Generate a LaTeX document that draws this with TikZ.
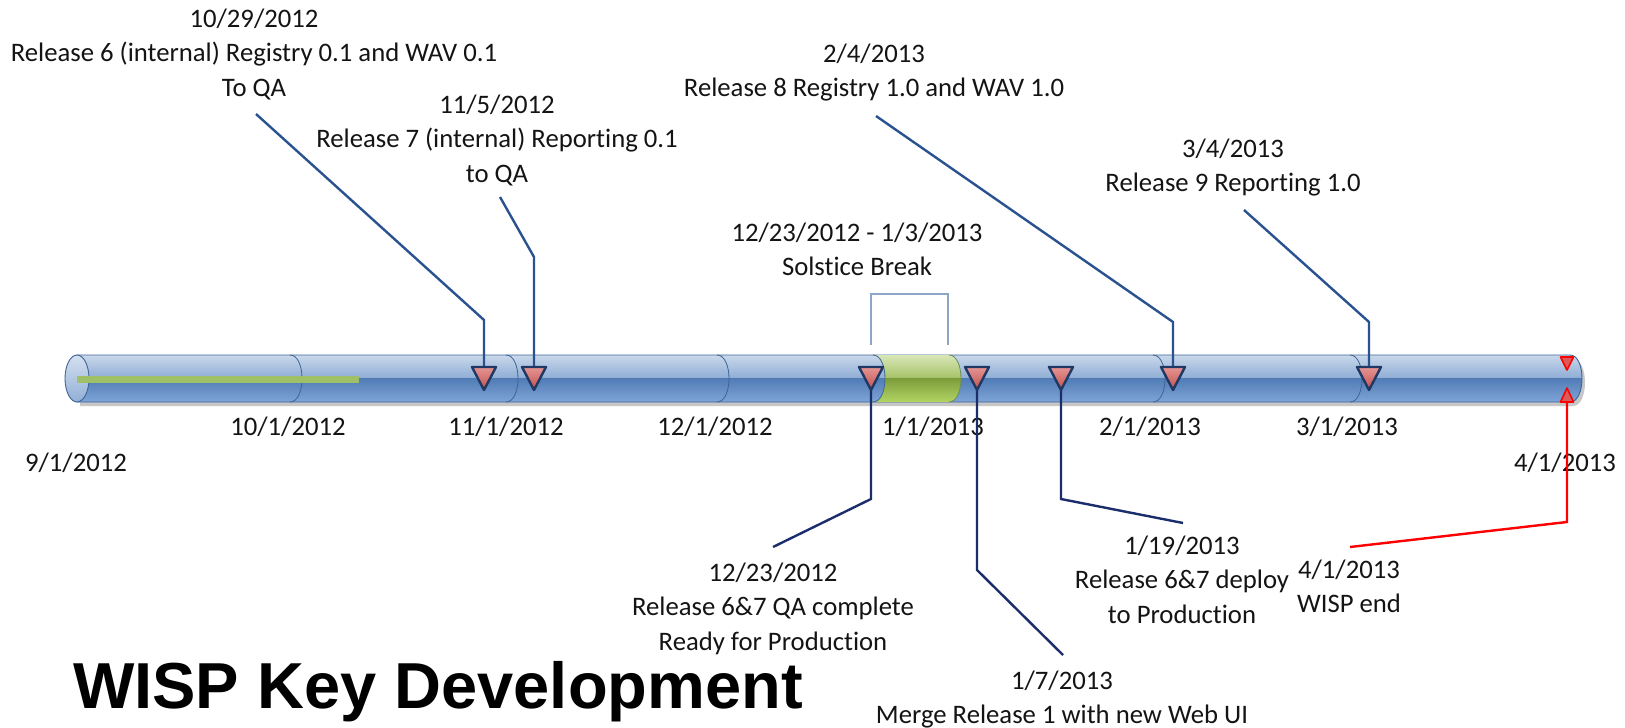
\documentclass[tikz,border=0pt]{standalone}
\usepackage{fontspec}
\setmainfont{Carlito}[Ligatures={NoCommon}]
\newfontfamily\titlefont{Liberation Sans}
\definecolor{tt}{HTML}{C9D8EB}
\definecolor{tum}{HTML}{92AFD6}
\definecolor{tlm}{HTML}{4F7AB4}
\definecolor{tb}{HTML}{7FA5D8}
\definecolor{gt}{HTML}{D8E7B8}
\definecolor{gum}{HTML}{A8C46A}
\definecolor{glm}{HTML}{7A9A3A}
\definecolor{gb}{HTML}{B2D462}
\definecolor{outl}{HTML}{3F6496}
\definecolor{topc}{HTML}{2A5290}
\definecolor{botc}{HTML}{1B2D6B}
\definecolor{triout}{HTML}{1F3864}
\definecolor{txt}{HTML}{141414}
\definecolor{tritop}{HTML}{E59593}
\definecolor{tribot}{HTML}{C0504D}
\definecolor{redfill}{HTML}{DC5A5A}
\definecolor{brk}{HTML}{8EA6C6}
\definecolor{gbar}{HTML}{A0C068}
\definecolor{gedge}{HTML}{6E8C5A}
\pgfdeclareverticalshading{tubeshade}{100bp}{color(0bp)=(tb); color(25bp)=(tb); color(51.2bp)=(tlm); color(51.6bp)=(tum); color(75bp)=(tt); color(100bp)=(tt)}
\pgfdeclareverticalshading{greenshade}{100bp}{color(0bp)=(gb); color(25bp)=(gb); color(51.2bp)=(glm); color(51.6bp)=(gum); color(75bp)=(gt); color(100bp)=(gt)}
\tikzset{
  lbl/.style={font=\fontsize{26.7}{34.5}\selectfont, align=center, anchor=base, inner sep=0pt, text=txt},
  ttl/.style={font=\titlefont\bfseries\fontsize{65}{70}\selectfont, anchor=base west, inner sep=0pt, text=black},
  tubebody/.style={shading=tubeshade, draw=outl, line width=0.9pt},
  greenseg/.style={shading=greenshade},
  divider/.style={draw=outl, line width=0.8pt},
  topconn/.style={draw=topc, line width=2.4pt},
  botconn/.style={draw=botc, line width=2.4pt},
  redconn/.style={draw=red, line width=2.4pt},
  milestone/.style={draw=triout, line width=2.4pt, line join=round, top color=tritop, bottom color=tribot},
  redmark/.style={draw=red, line width=1.6pt, line join=round, fill=redfill},
  bracket/.style={draw=brk, line width=1.2pt},
}
\newcommand{\mtri}[2]{\path[milestone] (#1-12,367) -- (#1+12,367) -- (#1,390) -- cycle; \coordinate (#2) at (#1,367);}
\newcommand{\divarc}[1]{\draw[divider] (#1,355) .. controls (#1+16,355) and (#1+16,402) .. (#1,402);}
\begin{document}
\begin{tikzpicture}[x=1pt,y=-1pt]
\useasboundingbox (0,0) rectangle (1625,728);
\fill[white] (0,0) rectangle (1625,728);
% labels (anchor base = baseline of last line)
\node[lbl] (l1029) at (254,96) {10/29/2012\\Release 6 (internal) Registry 0.1 and WAV 0.1\\To QA};
\node[lbl] (l115) at (497,182) {11/5/2012\\Release 7 (internal) Reporting 0.1\\to QA};
\node[lbl] (l204) at (874,96.5) {2/4/2013\\Release 8 Registry 1.0 and WAV 1.0};
\node[lbl] (l304) at (1233,191.5) {3/4/2013\\Release 9 Reporting 1.0};
\node[lbl] (lsol) at (857,275.5) {12/23/2012 - 1/3/2013\\Solstice Break};
\node[lbl] (l1223) at (773,650) {12/23/2012\\Release 6\&7 QA complete\\Ready for Production};
\node[lbl] (l107) at (1062,723.5) {1/7/2013\\Merge Release 1 with new Web UI};
\node[lbl] (l119) at (1182,623) {1/19/2013\\Release 6\&7 deploy\\to Production};
\node[lbl] (l401) at (1349,612.5) {4/1/2013\\WISP end};
\node[lbl] (d0) at (76,471) {9/1/2012};
\node[lbl] (d1) at (288,435) {10/1/2012};
\node[lbl] (d2) at (506,435) {11/1/2012};
\node[lbl] (d3) at (715,435) {12/1/2012};
\node[lbl] (d4) at (933,435) {1/1/2013};
\node[lbl] (d5) at (1150,435) {2/1/2013};
\node[lbl] (d6) at (1347,435) {3/1/2013};
\node[lbl] (d7) at (1565,471) {4/1/2013};
\node[ttl] (title) at (73,708) {WISP Key Development};
% tube shadow and body
\fill[black!40, opacity=0.55] (80,359) -- (1573,359) .. controls (1589,359) and (1589,406) .. (1573,406) -- (80,406) -- cycle;
\path[tubebody] (77,355) -- (1570,355) .. controls (1586,355) and (1586,402) .. (1570,402) -- (77,402) -- cycle;
\path[greenseg] (873,355) -- (949,355) .. controls (965,355) and (965,402) .. (949,402) -- (873,402) .. controls (889,402) and (889,355) .. (873,355) -- cycle;
\draw[draw=gedge, line width=0.8pt] (949,355) .. controls (965,355) and (965,402) .. (949,402);
\foreach \t in {290,506,717,873,1153,1350} {\divarc{\t}}
\draw[draw=outl, line width=0.9pt, top color=tt!80!white, bottom color=tum] (77,378.5) ellipse [x radius=12, y radius=23.5];
\fill[gbar] (77,376) rectangle (359,383);
% solstice bracket
\draw[bracket] (871,345) -- (871,294) -- (948,294) -- (948,345);
% connector free ends and corners
\coordinate (s1029) at (256,114); \coordinate (k1029) at (484,320);
\coordinate (s115) at (500,197); \coordinate (k115) at (534,257);
\coordinate (s204) at (876,116); \coordinate (k204) at (1173,322);
\coordinate (s304) at (1244,210); \coordinate (k304) at (1369,322);
\coordinate (e1223) at (773,547); \coordinate (k1223) at (871,499);
\coordinate (e107) at (1063,655); \coordinate (k107) at (977,570);
\coordinate (e119) at (1183,523); \coordinate (k119) at (1061,499);
\coordinate (e401) at (1350,547); \coordinate (k401) at (1567,522);
\coordinate (a1223) at (871,390); \coordinate (a107) at (977,390); \coordinate (a119) at (1061,390);
\coordinate (r401) at (1567,403);
% connectors
\draw[topconn] (s1029) -- (k1029) -- (484,367);
\draw[topconn] (s115) -- (k115) -- (534,367);
\draw[topconn] (s204) -- (k204) -- (1173,367);
\draw[topconn] (s304) -- (k304) -- (1369,367);
\draw[botconn] (a1223) -- (k1223) -- (e1223);
\draw[botconn] (a107) -- (k107) -- (e107);
\draw[botconn] (a119) -- (k119) -- (e119);
\draw[redconn] (e401) -- (k401) -- (r401);
% milestones
\mtri{484}{m1029}
\mtri{534}{m115}
\mtri{871}{m1223}
\mtri{977}{m107}
\mtri{1061}{m119}
\mtri{1173}{m204}
\mtri{1369}{m304}
\path[redmark] (1560.5,357) -- (1573.5,357) -- (1567,370) -- cycle;
\path[redmark] (1560.5,402) -- (1573.5,402) -- (1567,388) -- cycle;
\end{tikzpicture}
\end{document}
